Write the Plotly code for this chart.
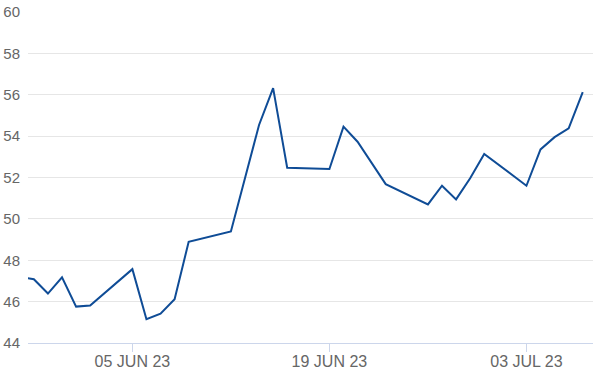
import plotly.graph_objects as go

dates = ["2023-05-26", "2023-05-29", "2023-05-30", "2023-05-31", "2023-06-01", "2023-06-02",
         "2023-06-05", "2023-06-06", "2023-06-07", "2023-06-08", "2023-06-09",
         "2023-06-12", "2023-06-13", "2023-06-14", "2023-06-15", "2023-06-16",
         "2023-06-19", "2023-06-20", "2023-06-21", "2023-06-23",
         "2023-06-26", "2023-06-27", "2023-06-28", "2023-06-29", "2023-06-30",
         "2023-07-03", "2023-07-04", "2023-07-05", "2023-07-06", "2023-07-07"]
values = [47.46, 47.08, 46.39, 47.17, 45.76, 45.81,
          47.57, 45.15, 45.42, 46.12, 48.89,
          49.39, 51.96, 54.54, 56.32, 52.47,
          52.41, 54.46, 53.73, 51.68,
          50.70, 51.60, 50.94, 51.96, 53.14,
          51.60, 53.36, 53.95, 54.38, 56.13]

tick_dates = ["2023-06-05", "2023-06-19", "2023-07-03"]
tick_labels = ["05 JUN 23", "19 JUN 23", "03 JUL 23"]
y_ticks = [44, 46, 48, 50, 52, 54, 56, 58, 60]

fig = go.Figure()
fig.add_trace(go.Scatter(x=dates, y=values, mode="lines",
                         line=dict(color="#0f4c96", width=2), hoverinfo="x+y"))

fig.update_layout(
    width=600, height=389,
    margin=dict(l=28, r=7, t=12, b=46, autoexpand=False),
    paper_bgcolor="white", plot_bgcolor="white",
    showlegend=False,
    font=dict(family="Liberation Sans, Arial, sans-serif", size=15, color="#666666"),
    xaxis=dict(
        range=["2023-05-28 14:00", "2023-07-07 17:30"],
        tickvals=tick_dates, ticktext=tick_labels,
        tickfont=dict(size=16),
        showgrid=False, showline=True, linecolor="#ccd6eb", linewidth=1,
        ticks="outside", ticklen=8, tickcolor="#ccd6eb", tickwidth=1,
        ticklabelstandoff=-4,
        zeroline=False, automargin=False,
    ),
    yaxis=dict(
        range=[44, 60], tickvals=y_ticks,
        showgrid=True, gridcolor="#e6e6e6", gridwidth=1,
        zeroline=False, showline=False, ticks="",
        ticklabelstandoff=7, automargin=False,
    ),
)

fig.write_html("out.html")
